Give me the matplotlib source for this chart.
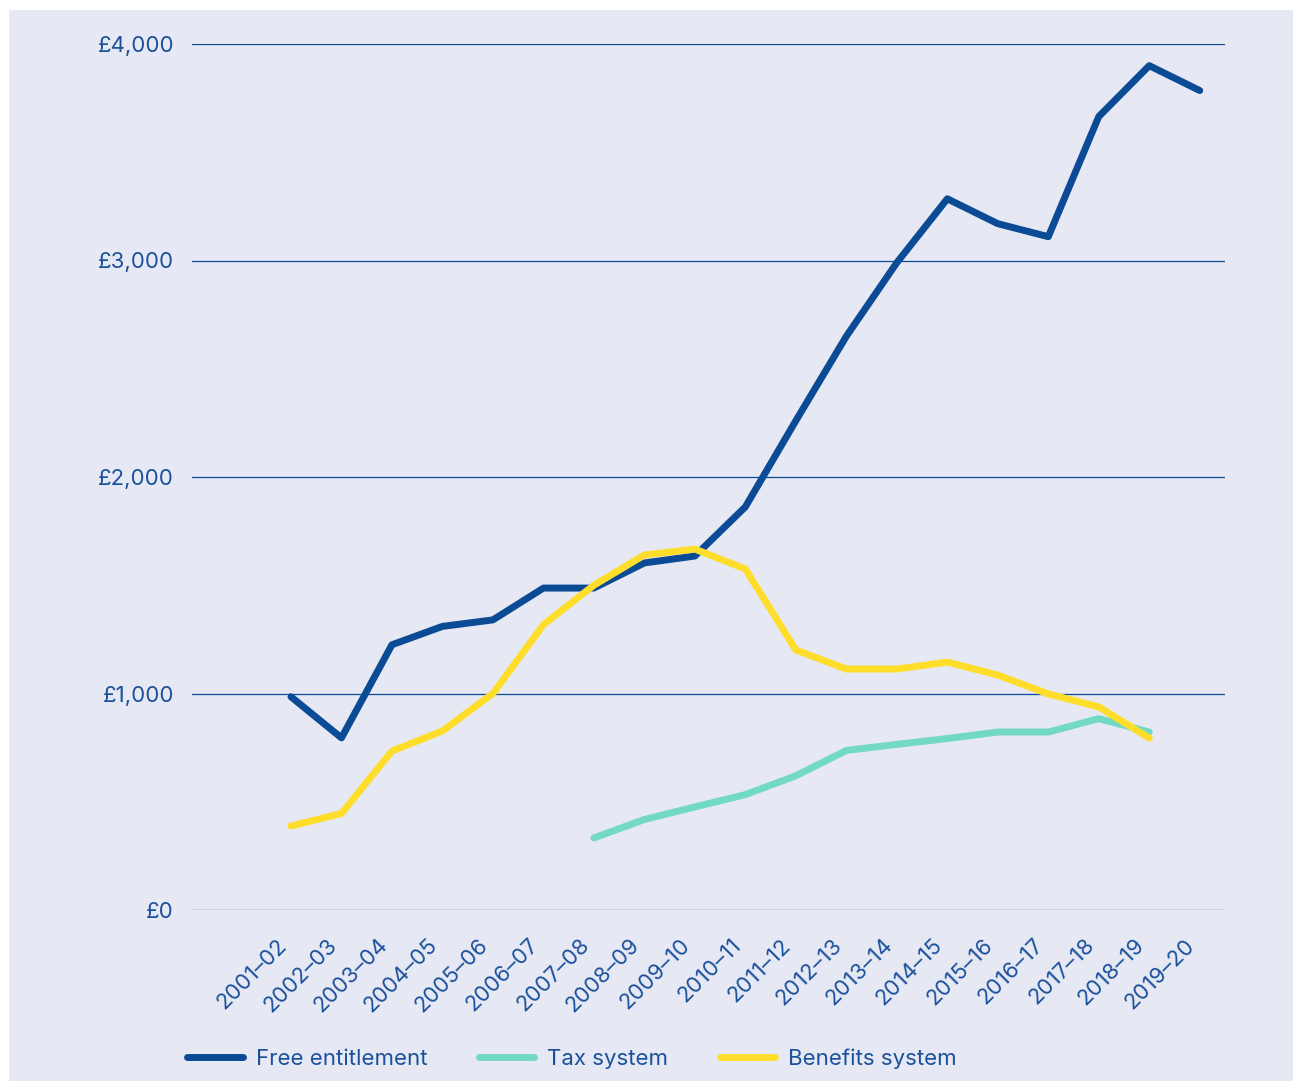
import numpy as np
import matplotlib.pyplot as plt
import matplotlib.transforms as mtransforms
from matplotlib.patches import Rectangle

years = ['2001–02', '2002–03', '2003–04', '2004–05', '2005–06', '2006–07',
         '2007–08', '2008–09', '2009–10', '2010–11', '2011–12', '2012–13',
         '2013–14', '2014–15', '2015–16', '2016–17', '2017–18', '2018–19',
         '2019–20']

free_entitlement = [985, 795, 1225, 1310, 1340, 1487, 1487, 1603, 1635, 1862,
                    2260, 2650, 2990, 3285, 3170, 3110, 3665, 3900, 3785]
# tax system runs 2007-08 to 2018-19
tax_start = 6
tax_system = [333, 418, 476, 533, 620, 737, 765, 792, 822, 822, 884, 822]
# benefits system runs 2001-02 to 2018-19
benefits_system = [388, 446, 734, 827, 1000, 1318, 1500, 1640, 1667, 1575,
                   1201, 1113, 1113, 1145, 1085, 998, 938, 794]

NAVY = '#0B4A94'
TEAL = '#72D9C3'
YELLOW = '#FFDE2B'
BG = '#E6E8F4'
TEXT = '#1B519C'

plt.rcParams['font.family'] = ['Inter', 'DejaVu Sans']

W, H = 1293, 1081
fig = plt.figure(figsize=(W / 100, H / 100), dpi=100)
fig.patch.set_facecolor('white')
fig.add_artist(Rectangle((9 / W, 0), 1 - 9 / W, 1 - 10 / H,
                         transform=fig.transFigure, facecolor=BG,
                         edgecolor='none', zorder=0))

ax = fig.add_axes([192 / W, 1 - 910 / H, (1225 - 192) / W, (910 - 44) / H])
ax.set_facecolor('none')

x = np.arange(len(years))
tax_x = x[tax_start:tax_start + len(tax_system)]

kw = dict(lw=5, solid_capstyle='round', solid_joinstyle='round', clip_on=False)
ax.plot(tax_x, tax_system, color=TEAL, label='Tax system', zorder=3, **kw)
ax.plot(x, free_entitlement, color=NAVY, label='Free entitlement', zorder=4, **kw)
ax.plot(x[:len(benefits_system)], benefits_system, color=YELLOW,
        label='Benefits system', zorder=5, **kw)

ax.set_xlim(-1.96, 18.5)
ax.set_ylim(0, 4000)
ax.set_yticks([0, 1000, 2000, 3000, 4000])
ax.set_yticklabels(['£0', '£1,000', '£2,000', '£3,000', '£4,000'])
ax.yaxis.grid(True, color=NAVY, lw=0.9)
ax.set_axisbelow(True)
for s in ax.spines.values():
    s.set_visible(False)
ax.tick_params(axis='y', length=0, pad=13, labelsize=16, labelcolor=TEXT)

ax.set_xticks(x)
ax.set_xticklabels(years, rotation=45, ha='right', va='top',
                   rotation_mode='anchor')
ax.tick_params(axis='x', length=0, pad=18, labelsize=16, labelcolor=TEXT)
shift = mtransforms.ScaledTranslation(-15 / 100, 0, fig.dpi_scale_trans)
for lab in ax.get_xticklabels():
    lab.set_transform(lab.get_transform() + shift)

handles, labels = ax.get_legend_handles_labels()
order = [1, 0, 2]
leg = fig.legend([handles[i] for i in order], [labels[i] for i in order],
                 loc='center left', bbox_to_anchor=(187 / W, 1 - 1059 / H),
                 ncol=3, frameon=False, fontsize=16, handlelength=2.5,
                 handletextpad=0.6, columnspacing=2.3, borderpad=0,
                 borderaxespad=0)
for t in leg.get_texts():
    t.set_color(TEXT)

fig.savefig('out.png', dpi=100, facecolor=fig.get_facecolor())
